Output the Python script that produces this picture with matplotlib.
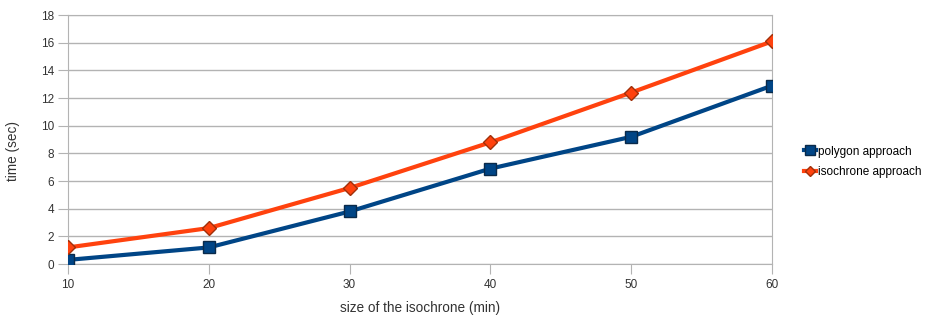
import numpy as np
import matplotlib
matplotlib.use('Agg')
import matplotlib.pyplot as plt

plt.rcParams['font.family'] = ['Liberation Sans', 'DejaVu Sans']

sizes = [10, 20, 30, 40, 50, 60]
polygon_time = [0.3, 1.2, 3.8, 6.9, 9.2, 12.9]
isochrone_time = [1.2, 2.6, 5.5, 8.8, 12.4, 16.1]

fig = plt.figure(figsize=(9.3, 3.22), dpi=100)
ax = fig.add_axes([0.0731, 0.180, 0.757, 0.773])

ax.plot(sizes, polygon_time, color='#004586', lw=3, marker='s', ms=9,
        mfc='#004586', mec='#0a2a4a', mew=1, label='polygon approach', zorder=3)
ax.plot(sizes, isochrone_time, color='#ff420e', lw=3, marker='D', ms=7,
        mfc='#ff420e', mec='#a0300a', mew=1, label='isochrone approach', zorder=3)

ax.set_xlim(10, 60)
ax.set_ylim(0, 18)
ax.set_xticks(sizes)
ax.set_yticks(np.arange(0, 19, 2))
ax.yaxis.grid(True, color='#b3b3b3', lw=1)
ax.set_axisbelow(True)
for s in ax.spines.values():
    s.set_color('#b3b3b3')
ax.tick_params(colors='#b3b3b3', labelcolor='#333333', labelsize=8.5)
ax.tick_params(axis='x', length=7, pad=4)
ax.tick_params(axis='y', length=7, pad=3)

ax.set_xlabel('size of the isochrone (min)', fontsize=9.8, color='#333333')
ax.xaxis.set_label_coords(0.5, -0.15)
ax.set_ylabel('time (sec)', fontsize=9.8, color='#333333')
ax.yaxis.set_label_coords(-0.068, 0.454)

ax.legend(loc='center left', bbox_to_anchor=(1.03, 0.41), frameon=False,
          fontsize=8.5, handlelength=1.0, handletextpad=0.2, labelspacing=0.75,
          markerscale=0.8)

fig.savefig('out.png', dpi=100)
